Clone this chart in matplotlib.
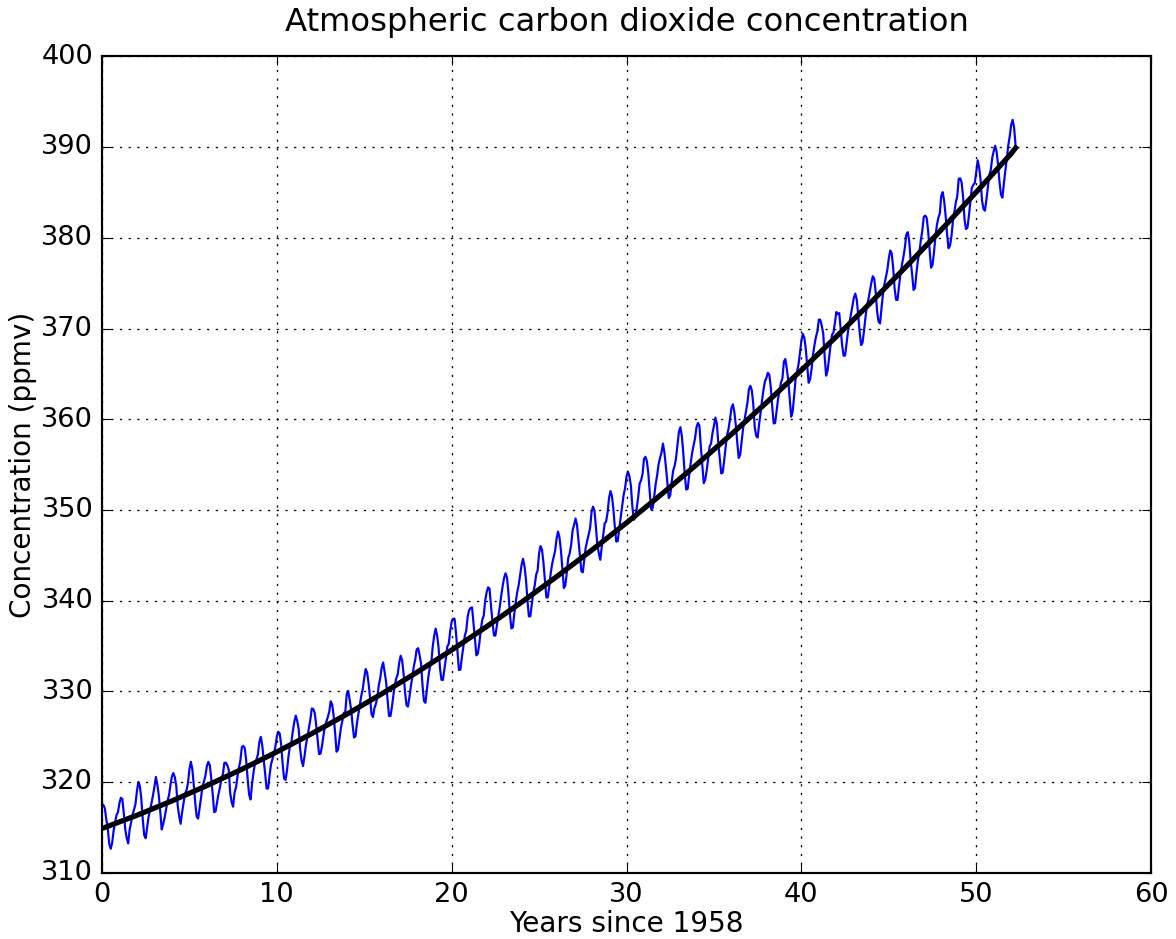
import matplotlib
matplotlib.use("Agg")
import matplotlib.pyplot as plt
import numpy as np

# Monthly CO2 readings (ppmv), Apr 1958 .. Jul 2010
co2_1958 = [317.45, 317.50, 317.10, 315.86, 314.93, 313.20, 312.66, 313.33, 314.67]
co2_years = [
    [315.62, 316.38, 316.71, 317.72, 318.29, 318.15, 316.54, 314.80, 313.84, 313.26, 314.80, 315.58],
    [316.43, 316.97, 317.58, 319.02, 320.03, 319.59, 318.18, 315.91, 314.16, 313.83, 315.00, 316.19],
    [316.93, 317.70, 318.54, 319.48, 320.58, 319.77, 318.57, 316.79, 314.80, 315.38, 316.10, 317.01],
    [317.94, 318.56, 319.68, 320.63, 321.01, 320.55, 319.58, 317.40, 316.26, 315.42, 316.69, 317.69],
    [318.74, 319.08, 319.86, 321.39, 322.25, 321.47, 319.74, 317.77, 316.21, 315.99, 317.12, 318.31],
    [319.57, 320.07, 320.73, 321.77, 322.25, 321.89, 320.44, 318.70, 316.70, 316.79, 317.79, 318.71],
    [319.44, 320.44, 320.89, 322.13, 322.16, 321.87, 321.39, 318.81, 317.81, 317.30, 318.87, 319.42],
    [320.62, 321.59, 322.39, 323.87, 324.01, 323.75, 322.39, 320.37, 318.64, 318.10, 319.79, 321.08],
    [322.07, 322.50, 323.04, 324.42, 325.00, 324.09, 322.55, 320.92, 319.31, 319.31, 320.72, 321.96],
    [322.57, 323.15, 323.89, 325.02, 325.57, 325.36, 324.14, 322.03, 320.41, 320.25, 321.31, 322.84],
    [324.00, 324.42, 325.64, 326.66, 327.34, 326.76, 325.88, 323.67, 322.38, 321.78, 322.85, 324.11],
    [325.03, 325.99, 326.87, 328.13, 328.07, 327.66, 326.35, 324.69, 323.10, 323.16, 323.98, 325.13],
    [326.17, 326.68, 327.18, 327.78, 328.92, 328.57, 327.34, 325.46, 323.36, 323.57, 324.80, 326.01],
    [326.77, 327.63, 327.75, 329.72, 330.07, 329.09, 328.05, 326.32, 324.93, 325.06, 326.50, 327.55],
    [328.54, 329.56, 330.30, 331.50, 332.48, 332.07, 330.87, 329.31, 327.51, 327.18, 328.16, 328.64],
    [329.35, 330.71, 331.48, 332.65, 333.20, 332.16, 331.07, 329.12, 327.32, 327.28, 328.30, 329.58],
    [330.73, 331.46, 331.90, 333.17, 333.94, 333.45, 331.98, 329.95, 328.50, 328.34, 329.37, 330.58],
    [331.59, 332.75, 333.52, 334.64, 334.77, 334.00, 333.06, 330.68, 328.95, 328.75, 330.15, 331.62],
    [332.66, 333.13, 334.95, 336.13, 336.93, 336.17, 334.88, 332.56, 331.29, 331.27, 332.41, 333.60],
    [334.95, 335.25, 336.66, 337.69, 338.03, 338.01, 336.41, 334.41, 332.37, 332.41, 333.75, 334.90],
    [336.14, 336.69, 338.27, 338.96, 339.21, 339.26, 337.54, 335.75, 333.98, 334.19, 335.31, 336.81],
    [337.90, 338.34, 340.01, 340.93, 341.48, 341.33, 339.40, 337.70, 336.19, 336.15, 337.27, 338.32],
    [339.29, 340.55, 341.61, 342.53, 343.03, 342.54, 340.78, 338.44, 336.95, 337.08, 338.58, 339.88],
    [340.96, 341.73, 342.81, 343.97, 344.63, 343.79, 342.32, 340.09, 338.28, 338.29, 339.60, 340.90],
    [341.68, 342.90, 343.33, 345.25, 346.03, 345.63, 344.19, 342.27, 340.35, 340.38, 341.59, 343.05],
    [344.10, 344.79, 345.52, 346.84, 347.63, 346.98, 345.53, 343.55, 341.40, 341.67, 343.10, 344.70],
    [345.21, 346.16, 347.74, 348.34, 349.06, 348.38, 346.72, 345.02, 343.27, 343.13, 344.49, 345.88],
    [346.56, 347.28, 348.01, 349.77, 350.38, 349.93, 348.16, 346.08, 345.22, 344.51, 345.93, 347.22],
    [348.52, 348.73, 349.73, 351.31, 352.09, 351.53, 350.11, 348.08, 346.52, 346.59, 347.96, 349.16],
    [350.39, 351.64, 352.40, 353.69, 354.21, 353.72, 352.69, 350.40, 348.92, 349.13, 350.20, 351.41],
    [352.91, 353.27, 353.96, 355.64, 355.86, 355.37, 353.99, 351.81, 350.05, 350.25, 351.49, 352.85],
    [353.80, 355.04, 355.73, 356.32, 357.32, 356.34, 354.84, 353.01, 351.31, 351.62, 353.07, 354.33],
    [354.84, 355.73, 357.23, 358.66, 359.13, 358.13, 356.19, 353.85, 352.25, 352.35, 353.81, 355.12],
    [356.25, 357.11, 357.86, 359.09, 359.59, 359.33, 357.01, 354.94, 352.96, 353.32, 354.32, 355.57],
    [357.00, 357.31, 358.47, 359.27, 360.19, 359.52, 357.33, 355.64, 354.03, 354.12, 355.41, 356.91],
    [358.24, 358.92, 359.99, 361.23, 361.65, 360.81, 359.38, 357.46, 355.73, 356.07, 357.53, 358.98],
    [359.92, 360.86, 361.83, 363.30, 363.69, 363.19, 361.64, 359.12, 358.17, 357.99, 359.45, 360.68],
    [362.07, 363.24, 364.17, 364.57, 365.13, 364.92, 363.55, 361.38, 359.54, 359.58, 360.89, 362.24],
    [363.09, 364.03, 364.51, 366.35, 366.64, 365.59, 364.31, 362.25, 360.29, 360.82, 362.49, 364.38],
    [365.26, 365.98, 367.24, 368.66, 369.42, 368.99, 367.82, 365.95, 364.02, 364.40, 365.52, 367.13],
    [368.18, 369.07, 369.68, 370.99, 370.96, 370.30, 369.45, 366.90, 364.81, 365.37, 366.72, 368.10],
    [369.29, 369.54, 370.60, 371.82, 371.58, 371.70, 369.86, 368.13, 367.00, 367.03, 368.37, 369.67],
    [370.59, 371.51, 372.43, 373.37, 373.85, 373.22, 371.50, 369.61, 368.18, 368.45, 369.76, 371.24],
    [372.53, 373.20, 374.12, 375.02, 375.76, 375.52, 374.01, 371.85, 370.75, 370.55, 372.25, 373.79],
    [374.88, 375.64, 376.45, 377.73, 378.60, 378.28, 376.70, 374.38, 373.17, 373.15, 374.66, 375.99],
    [377.00, 377.87, 378.88, 380.35, 380.62, 379.69, 377.47, 376.01, 374.25, 374.46, 376.16, 377.51],
    [378.46, 379.73, 380.77, 382.29, 382.45, 382.21, 380.74, 378.74, 376.70, 377.00, 378.35, 380.11],
    [381.38, 382.19, 382.67, 384.61, 385.03, 384.05, 382.46, 380.41, 378.85, 379.13, 380.15, 381.82],
    [382.89, 383.90, 384.58, 386.50, 386.56, 386.10, 384.50, 381.99, 380.96, 381.12, 382.45, 383.95],
    [385.52, 385.82, 386.03, 387.21, 388.54, 387.76, 386.36, 384.09, 383.18, 382.99, 384.19, 385.56],
    [386.94, 387.48, 388.82, 389.55, 390.14, 389.48, 388.03, 386.11, 384.74, 384.43, 386.02, 387.42],
]
co2_2010 = [388.71, 390.20, 391.17, 392.46, 393.00, 392.15, 390.20]

# Smooth trend (black curve) read at 2-year steps
trend_x = [0, 2, 4, 6, 8, 10, 12, 14, 16, 18, 20, 22, 24, 26, 28, 30,
           32, 34, 36, 38, 40, 42, 44, 46, 48, 50, 52, 52.25]
trend_y = [314.90, 316.36, 317.94, 319.63, 321.43, 323.34, 325.36, 327.49,
           329.74, 332.10, 334.57, 337.15, 339.84, 342.65, 345.56, 348.59,
           351.73, 354.99, 358.35, 361.83, 365.41, 369.11, 372.92, 376.84,
           380.88, 385.03, 389.28, 389.90]

co2 = np.array(co2_1958 + [v for row in co2_years for v in row] + co2_2010)
years = np.arange(len(co2)) / 12.0

plt.style.use("classic")
plt.rcParams["figure.facecolor"] = "white"
plt.rcParams["savefig.facecolor"] = "white"

fig = plt.figure(figsize=(7.5, 5.99), dpi=156.8)
ax = fig.add_axes([0.0867, 0.0703, 0.8921, 0.8695])

ax.plot(years, co2, color="b", linewidth=1.0)
ax.plot(trend_x, trend_y, color="k", linewidth=2.4)

ax.set_xlim(0, 60)
ax.set_ylim(310, 400)
ax.set_xticks(np.arange(0, 61, 10))
ax.set_yticks(np.arange(310, 401, 10))
ax.tick_params(labelsize=12.5)
ax.grid(True, color="k", linestyle=":", linewidth=0.6)

ax.set_xlabel("Years since 1958", fontsize=12.8, labelpad=1)
ax.set_ylabel("Concentration (ppmv)", fontsize=12.8, labelpad=2)
ax.set_title("Atmospheric carbon dioxide concentration", fontsize=14.8, y=1.018)

fig.savefig("out.png", dpi=156.8)
